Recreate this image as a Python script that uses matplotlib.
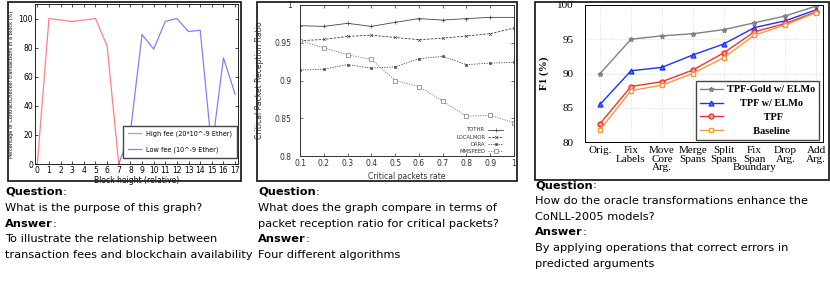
import numpy as np
import matplotlib
matplotlib.use('Agg')
import matplotlib.pyplot as plt
from matplotlib.patches import Rectangle

# panel 1: fee experiment
blocks_high = [0, 1, 2, 3, 4, 5, 6, 7]
pct_high = [0, 100, 99, 98, 99, 100, 81, 0]
blocks_low = [7, 8, 9, 10, 11, 12, 13, 14, 15, 16, 17]
pct_low = [0, 22, 89, 79, 98, 100, 91, 92, 10, 73, 48]

# panel 2: packet reception ratio
rates = [0.1, 0.2, 0.3, 0.4, 0.5, 0.6, 0.7, 0.8, 0.9, 1.0]
tothr = [0.9726, 0.9717, 0.9757, 0.9717, 0.977, 0.982, 0.980, 0.982, 0.9836, 0.9836]
localmor = [0.9527, 0.9544, 0.9584, 0.960, 0.957, 0.954, 0.956, 0.959, 0.962, 0.9695]
dara = [0.9137, 0.915, 0.921, 0.9164, 0.918, 0.9288, 0.932, 0.921, 0.923, 0.924]
mmspeed = [0.9527, 0.9434, 0.934, 0.928, 0.900, 0.892, 0.8726, 0.8526, 0.854, 0.844]

# panel 3: oracle transformations
steps = ['Orig.', 'Fix\nLabels', 'Move\nCore\nArg.', 'Merge\nSpans', 'Split\nSpans',
         'Fix\nSpan\nBoundary', 'Drop\nArg.', 'Add\nArg.']
f1_gold = [90.0, 95.0, 95.5, 95.8, 96.4, 97.4, 98.4, 99.85]
f1_elmo = [85.5, 90.4, 90.9, 92.7, 94.3, 96.7, 97.7, 99.3]
f1_tpf = [82.7, 88.1, 88.8, 90.5, 93.0, 96.1, 97.3, 99.0]
f1_base = [81.8, 87.5, 88.3, 90.0, 92.3, 95.6, 97.1, 98.9]

questions = [['What is the purpose of this graph?'],
             ['What does the graph compare in terms of',
              'packet reception ratio for critical packets?'],
             ['How do the oracle transformations enhance the', 'CoNLL-2005 models?']]
answers = [['To illustrate the relationship between',
            'transaction fees and blockchain availability'],
           ['Four different algorithms'],
           ['By applying operations that correct errors in', 'predicted arguments']]

W, H = 830, 284
fig = plt.figure(figsize=(W / 100, H / 100), dpi=100)


def box(x0, y0, x1, y1):
    return [x0 / W, 1 - y1 / H, (x1 - x0) / W, (y1 - y0) / H]


def frame(x0, y0, x1, y1):
    fig.patches.append(Rectangle((x0 / W, 1 - y1 / H), (x1 - x0) / W, (y1 - y0) / H,
                                 transform=fig.transFigure, fill=False, lw=1.3, ec='#222222'))


# ---- panel 1 ----
frame(8, 2, 241, 181)
ax1 = fig.add_axes(box(35, 4, 238, 164))
ax1.plot(blocks_high, pct_high, color='#ff8080', lw=0.9, label='High fee (20*10^-9 Ether)')
ax1.plot(blocks_low, pct_low, color='#8080ff', lw=0.9, label='Low fee (10^-9 Ether)')
ax1.set_xlim(-0.2, 17.25)
ax1.set_ylim(0, 110)
ax1.set_xticks(range(18))
ax1.set_yticks([0, 20, 40, 60, 80, 100])
ax1.tick_params(direction='in', top=True, right=True, labelsize=5.5, length=2, width=0.5, pad=1.5)
ax1.set_xlabel('Block height (relative)', fontsize=5.5, labelpad=1)
ax1.set_ylabel('Percentage of ContractChecker transactions in a block (%)', fontsize=3.6, labelpad=3)
for s in ax1.spines.values():
    s.set_linewidth(0.6)
ax1.legend(loc='upper right', bbox_to_anchor=(1.0, (164 - 125) / 160), fontsize=4.7,
           labelspacing=1.45, handlelength=1.9, handletextpad=0.9, borderpad=0.75,
           fancybox=False, edgecolor='#444444', framealpha=1, borderaxespad=0.1)

# ---- panel 2 ----
frame(257, 2, 517, 181)
ax2 = fig.add_axes(box(300, 5, 514, 156))
gray = '#444444'
ax2.plot(rates, tothr, color=gray, lw=0.6, ls='-', marker='+', ms=2.5, mew=0.5, label='TOTHR')
ax2.plot(rates, localmor, color=gray, lw=0.6, ls=(0, (3, 1.5)), marker='x', ms=2, mew=0.5, label='LOCALMOR')
ax2.plot(rates, dara, color=gray, lw=0.6, ls=(0, (1.5, 1.5)), marker='s', ms=2, mew=0.4, label='DARA')
ax2.plot(rates, mmspeed, color='#777777', lw=0.6, ls=(0, (1.5, 1.5)), marker='s', ms=2.6, mew=0.5,
         mfc='white', label='MMSPEED')
ax2.set_xlim(0.1, 1.0)
ax2.set_ylim(0.8, 1.0)
ax2.set_xticks(rates)
ax2.set_xticklabels(['0.1', '0.2', '0.3', '0.4', '0.5', '0.6', '0.7', '0.8', '0.9', '1'])
ax2.set_yticks([0.8, 0.85, 0.9, 0.95, 1.0])
ax2.set_yticklabels(['0.8', '0.85', '0.9', '0.95', '1'])
ax2.tick_params(direction='in', top=True, right=True, labelsize=5.5, length=2, width=0.5, pad=2,
                colors='#333333')
ax2.tick_params(axis='y', pad=6)
ax2.set_xlabel('Critical packets rate', fontsize=5.5, labelpad=3, color='#333333')
ax2.set_ylabel('Critical Packet Reception Ratio', fontsize=5.5, labelpad=8, color='#333333')
for s in ax2.spines.values():
    s.set_linewidth(0.7)
    s.set_color('#333333')
ax2.legend(loc='lower right', bbox_to_anchor=((503 - 300) / 214, 2 / 151), fontsize=3.8,
           frameon=False, markerfirst=False, handlelength=2.8, handletextpad=0.6,
           labelspacing=0.42, borderpad=0, borderaxespad=0, labelcolor='#333333')

# ---- panel 3 ----
frame(535, 2, 829, 180)
ax3 = fig.add_axes(box(585, 5, 823, 142))
xs = np.arange(len(steps))
ax3.plot(xs, f1_gold, color='#808080', lw=1.0, marker='*', ms=3.5, label='TPF-Gold w/ ELMo')
ax3.plot(xs, f1_elmo, color='#1a33ff', lw=1.0, marker='^', ms=3.5, mfc='#6677ff',
         label='     TPF w/ ELMo')
ax3.plot(xs, f1_tpf, color='#ee3333', lw=1.0, marker='o', ms=3.5, mfc='#ff9999',
         label='              TPF')
ax3.plot(xs, f1_base, color='#f5993a', lw=1.0, marker='s', ms=3.5, mfc='white',
         label='          Baseline')
ax3.set_xlim(-0.49, 7.22)
ax3.set_ylim(80, 100)
ax3.set_yticks([80, 85, 90, 95, 100])
ax3.set_xticks(xs)
ax3.set_xticklabels(steps, va='top', linespacing=0.95)
ax3.grid(True, ls=':', lw=0.5, color='#cccccc')
ax3.tick_params(length=0, labelsize=8, pad=3)
ax3.tick_params(axis='y', pad=8)
for lab in ax3.get_xticklabels() + ax3.get_yticklabels():
    lab.set_family('Liberation Serif')
ax3.set_ylabel('F1 (%)', fontsize=8, family='Liberation Serif', fontweight='bold', labelpad=6)
for s in ax3.spines.values():
    s.set_linewidth(0.7)
ax3.legend(loc='lower right', bbox_to_anchor=((819 - 585) / 238, 2 / 137),
           prop={'family': 'Liberation Serif', 'weight': 'bold', 'size': 7.4},
           fancybox=False, edgecolor='#444444', framealpha=1, borderaxespad=0, borderpad=0.4,
           handlelength=2.2, handletextpad=0.4, labelspacing=0.45)

# ---- captions ----
txt = dict(family='DejaVu Sans', fontsize=8.2)
cols = [5, 258, 535]
first_base = [195, 195, 188]
lh = 15.8
r = fig.canvas.get_renderer()
for x, yb, q, a in zip(cols, first_base, questions, answers):
    lines = [('Question', True)] + [(s, False) for s in q] + [('Answer', True)] + [(s, False) for s in a]
    for i, (s, head) in enumerate(lines):
        y = 1 - (yb + i * lh) / H
        if head:
            t = fig.text(x / W, y, s, va='baseline', fontweight='bold', **txt)
            bb = t.get_window_extent(r)
            fig.text(bb.x1 / (W * fig.dpi / 100), y, ':', va='baseline', **txt)
        else:
            fig.text(x / W, y, s, va='baseline', **txt)

fig.savefig('out.png', dpi=100)
